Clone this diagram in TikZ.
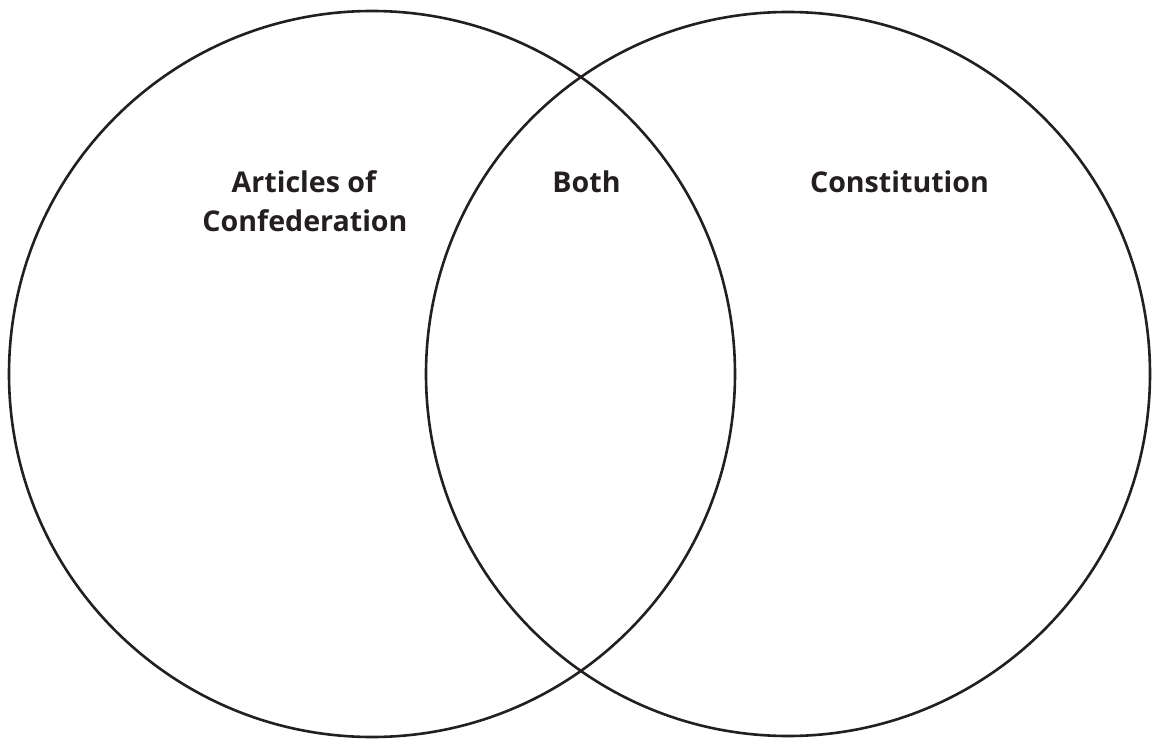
\documentclass[tikz,border=0pt]{standalone}
\usepackage{fontspec}
\setmainfont{Open Sans}
\definecolor{ink}{HTML}{231F20}
\begin{document}
\begin{tikzpicture}[x=1pt,y=-1pt,
  ring/.style={draw=ink,line width=2.6pt},
  label/.style={font=\fontsize{28.6}{38}\selectfont\bfseries,text=ink,anchor=base,inner sep=0pt}]
\useasboundingbox (0,0) rectangle (1152,741);
% the two overlapping sets
\draw[ring] (372,374) circle (363);
\draw[ring] (788,374) circle (362);
% set titles
\node[label] (aoc1) at (304,193) {Articles of};
\node[label] (aoc2) at (305,231) {Confederation};
\node[label] (both) at (586.5,193) {Both};
\node[label] (con) at (899.5,193) {Constitution};
\end{tikzpicture}
\end{document}
